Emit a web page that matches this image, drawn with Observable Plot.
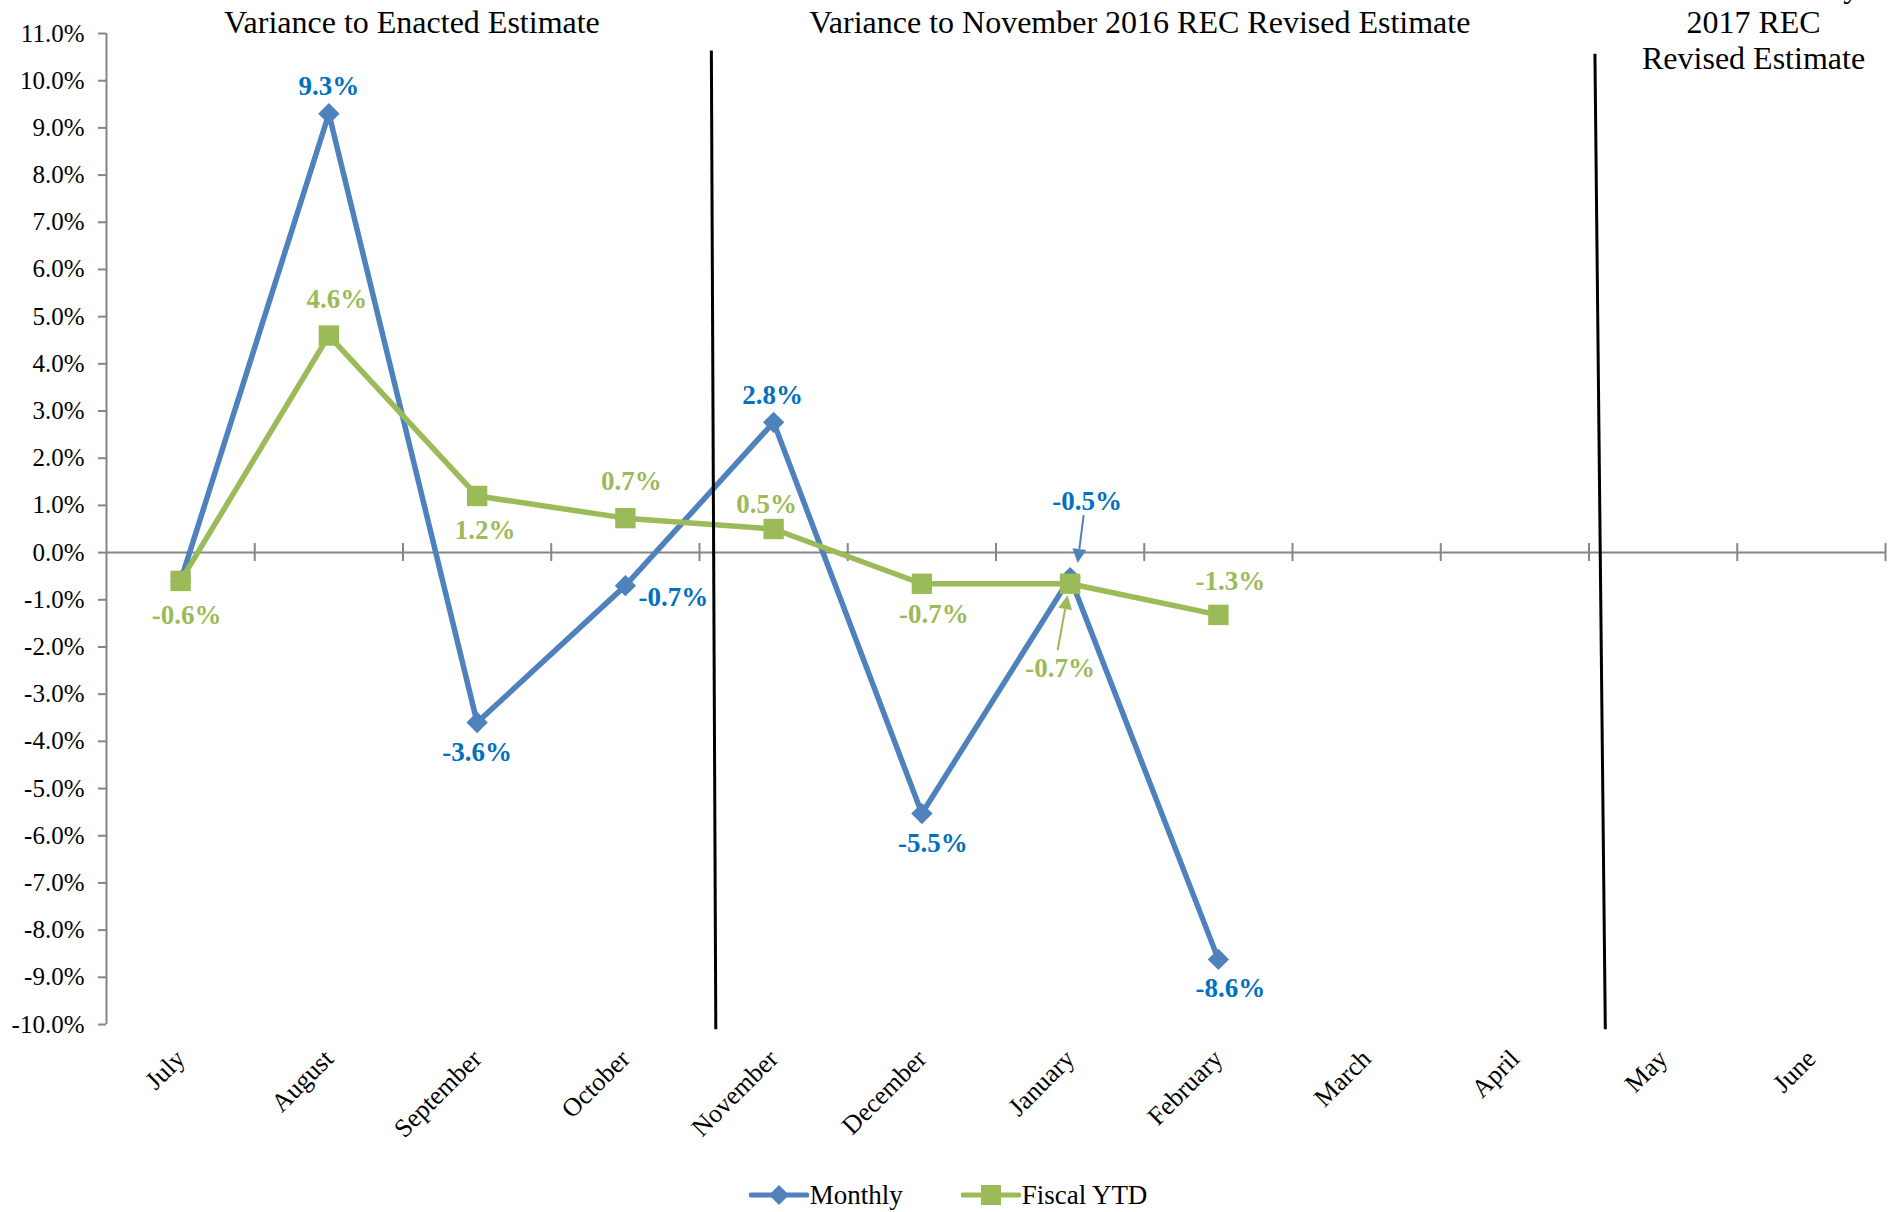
<!DOCTYPE html>
<html>
<head>
<meta charset="utf-8">
<script src="https://cdn.jsdelivr.net/npm/d3@7"></script>
<script src="https://cdn.jsdelivr.net/npm/@observablehq/plot@0.6"></script>
<style>
  html, body { margin: 0; padding: 0; background: #fff; }
  #legend { display: flex; justify-content: center; align-items: center; height: 70px;
            font-family: "Liberation Serif", "Times New Roman", serif; font-size: 27px; color: #000; }
  .item { display: flex; align-items: center; }
  .item svg { display: block; }
</style>
</head>
<body>
<div id="chart"></div>
<div id="legend"></div>
<script>
// ---- data ----
const months = ["July", "August", "September", "October", "November", "December",
                "January", "February", "March", "April", "May", "June"];
const monthly   = [-0.6, 9.3, -3.6, -0.7, 2.76, -5.53, -0.53, -8.62];
const fiscalYTD = [-0.6, 4.6, 1.2, 0.73, 0.5, -0.66, -0.66, -1.32];
const yTicks = d3.range(-10, 12);
const seriesNames = ["Monthly", "Fiscal YTD"];
const sectionTitles = [
  {x: 1.56, text: "Variance to Enacted Estimate"},
  {x: 6.47, text: "Variance to November 2016 REC Revised Estimate"},
  {x: 10.61, text: "Variance to May\n2017 REC\nRevised Estimate"}
];
const dividers = [
  {x1: 3.58, y1: 10.64, x2: 3.61, y2: -10.1},
  {x1: 9.54, y1: 10.57, x2: 9.61, y2: -10.1}
];

// ---- styles ----
const blue = "#4F81BD", blueText = "#0070C0", green = "#9BBB59", gray = "#868686";
const font = "Liberation Serif";
// label offsets [dx, dy] in px (null = no label)
const monthlyLabelPos = [null, [0, -27], [0, 30], [48, 12], [-1, -27], [11, 30], [17, -76], [12, 29]];
const ytdLabelPos = [[6, 34], [8, -36], [8, 34], [6, -37], [-7, -25], [12, 31], [-10, 85], [12, -34]];
const arrowNotes = [
  {series: "monthly", i: 6, from: [14, -62], to: [8, -14], color: blue},
  {series: "ytd", i: 6, from: [-12, 67], to: [-2, 12], color: green}
];

const fmt = v => v.toFixed(1) + "%";
const monthlyData = monthly.map((v, i) => ({i, month: months[i], value: v}));
const ytdData = fiscalYTD.map((v, i) => ({i, month: months[i], value: v}));
const boundaries = months.map((m, i) => i + 0.5);

function labelMarks(data, pos, color) {
  return data.filter((d, i) => pos[i]).map(d => Plot.text([d], {
    x: "i", y: "value", text: d => fmt(d.value),
    dx: pos[d.i][0], dy: pos[d.i][1], fill: color,
    fontWeight: "bold", fontSize: 27, fontFamily: font
  }));
}

function arrowMark(index, scales) {
  const g = d3.create("svg:g");
  for (const a of arrowNotes) {
    const v = (a.series === "monthly" ? monthly : fiscalYTD)[a.i];
    const px = scales.x(a.i), py = scales.y(v);
    const x1 = px + a.from[0], y1 = py + a.from[1];
    const x2 = px + a.to[0], y2 = py + a.to[1];
    const ang = Math.atan2(y2 - y1, x2 - x1);
    const L = 14, W = 7;
    const bx = x2 - L * Math.cos(ang), by = y2 - L * Math.sin(ang);
    g.append("line").attr("x1", x1).attr("y1", y1).attr("x2", bx).attr("y2", by)
      .attr("stroke", a.color).attr("stroke-width", 2);
    g.append("path")
      .attr("d", `M${x2},${y2}L${bx - W * Math.sin(ang)},${by + W * Math.cos(ang)}L${bx + W * Math.sin(ang)},${by - W * Math.cos(ang)}Z`)
      .attr("fill", a.color);
  }
  return g.node();
}

const chart = Plot.plot({
  width: 1896,
  height: 1160,
  marginTop: 33,
  marginBottom: 136,
  marginLeft: 106,
  marginRight: 11,
  style: {fontFamily: font, fontSize: "25px", background: "#fff", overflow: "visible"},
  x: {domain: [-0.5, 11.5]},
  y: {domain: [-10, 11]},
  marks: [
    Plot.ruleY([0], {stroke: gray, strokeWidth: 2}),
    Plot.ruleX(boundaries, {y1: 0, y2: 0, insetTop: -9, insetBottom: -9, stroke: gray, strokeWidth: 2}),
    Plot.ruleX([-0.5], {stroke: gray, strokeWidth: 2}),
    Plot.axisY({ticks: yTicks, tickFormat: fmt, tickSize: 8, tickPadding: 14,
                stroke: gray, fill: "#000", fontSize: 25, strokeWidth: 2}),
    Plot.axisX({ticks: d3.range(months.length), tickFormat: i => months[i], tickRotate: -45,
                tickSize: 0, tickPadding: 30, fontSize: 26, fill: "#000", anchor: "bottom"}),
    Plot.line(monthlyData, {x: "i", y: "value", stroke: blue, strokeWidth: 5.5, strokeLinejoin: "round"}),
    Plot.dot(monthlyData, {x: "i", y: "value", symbol: "square", r: 8.5, rotate: 45, fill: blue}),
    Plot.line(ytdData, {x: "i", y: "value", stroke: green, strokeWidth: 5.5, strokeLinejoin: "round"}),
    Plot.dot(ytdData, {x: "i", y: "value", symbol: "square", r: 11.5, fill: green}),
    Plot.link(dividers, {x1: "x1", y1: "y1", x2: "x2", y2: "y2", stroke: "#000", strokeWidth: 3}),
    ...labelMarks(monthlyData, monthlyLabelPos, blueText),
    ...labelMarks(ytdData, ytdLabelPos, green),
    arrowMark,
    Plot.text(sectionTitles, {x: "x", text: "text", frameAnchor: "top", dy: -12,
                              lineAnchor: "middle", lineHeight: 1.13, fontSize: 32, fill: "#000"})
  ]
});
document.getElementById("chart").appendChild(chart);

// ---- legend ----
const legend = d3.select("#legend");
const items = [
  {name: seriesNames[0], color: blue, shape: "diamond"},
  {name: seriesNames[1], color: green, shape: "square"}
];
items.forEach((it, k) => {
  const div = legend.append("div").attr("class", "item").style("margin-left", k ? "58px" : "0");
  const svg = div.append("svg").attr("width", 60).attr("height", 28);
  svg.append("line").attr("x1", 2).attr("x2", 58).attr("y1", 14).attr("y2", 14)
    .attr("stroke", it.color).attr("stroke-width", 5).attr("stroke-linecap", "round");
  if (it.shape === "diamond") {
    svg.append("path").attr("d", "M30,4L40,14L30,24L20,14Z").attr("fill", it.color);
  } else {
    svg.append("rect").attr("x", 20).attr("y", 4).attr("width", 20).attr("height", 20).attr("fill", it.color);
  }
  div.append("span").style("margin-left", "1px").text(it.name);
});
</script>
</body>
</html>
